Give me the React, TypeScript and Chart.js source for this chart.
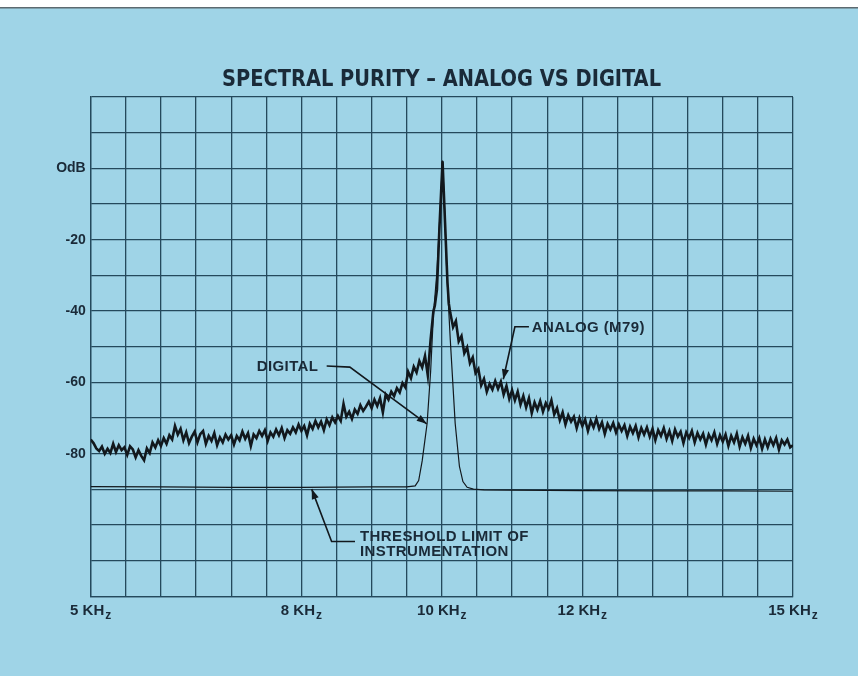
import React, { useEffect, useRef } from "react";
import { Chart, registerables } from "chart.js";

Chart.register(...registerables);

// ---------- data ----------
const TITLE = "SPECTRAL PURITY \u2013 ANALOG VS DIGITAL";

const X_MIN_KHZ = 5;
const X_MAX_KHZ = 15;
const X_GRID_STEP = 0.5;
const Y_MIN_DB = -120;
const Y_MAX_DB = 20;
const Y_GRID_STEP = 10;

const X_LABEL_KHZ = [5, 8, 10, 12, 15];
const X_LABEL_MAIN = ["5 KH", "8 KH", "10 KH", "12 KH", "15 KH"];
const X_LABEL_SUB = "z";

const Y_LABEL_DB = [0, -20, -40, -60, -80];
const Y_LABEL_TEXT = ["OdB", "-20", "-40", "-60", "-80"];

// Analog (M79) trace, left skirt sampled every 0.04 kHz from 5.00 kHz
const ANALOG_LEFT_START = 5.0;
const ANALOG_RIGHT_START = 10.12;
const ANALOG_STEP = 0.04;
const ANALOG_LEFT_DB = [
  -76.0, -77.0, -78.5, -79.2, -78.0, -80.0, -78.6, -79.8, -77.2, -79.5,
  -77.6, -79.0, -78.2, -80.3, -77.9, -78.8, -81.0, -79.0, -80.6, -81.8,
  -78.5, -79.8, -76.8, -78.2, -76.2, -77.8, -75.6, -77.2, -74.8, -76.0,
  -72.2, -74.6, -73.0, -76.2, -74.0, -77.0, -75.2, -73.8, -76.8, -74.5,
  -73.6, -77.2, -75.0, -76.4, -74.2, -77.6, -75.4, -76.8, -74.6, -76.0,
  -74.8, -77.4, -75.0, -76.2, -73.8, -75.8, -74.2, -77.8, -74.6, -75.6,
  -73.6, -75.0, -73.4, -76.4, -74.0, -75.2, -73.2, -74.8, -72.8, -75.6,
  -73.4, -74.4, -72.6, -74.0, -71.8, -73.6, -72.2, -74.8, -71.6, -73.0,
  -70.8, -72.6, -71.0, -73.4, -70.4, -72.0, -69.8, -71.2, -69.4, -70.8,
  -66.0, -69.6, -68.2, -70.2, -67.6, -68.8, -66.4, -68.0, -66.8, -65.4,
  -67.2, -64.8, -66.6, -64.4, -68.4, -63.4, -64.8, -62.6, -63.8, -61.6,
  -62.8, -60.2, -61.4, -57.0, -58.8, -55.6, -57.2, -54.0, -55.8, -52.6,
  -58.0, -48.0, -40.0,
];
// Analog carrier peak (explicit points)
const ANALOG_PEAK_KHZ = [9.9, 9.93, 9.965, 10.01, 10.045, 10.08, 10.1];
const ANALOG_PEAK_DB = [-38.5, -34.0, -17.0, 2.0, -15.0, -32.0, -38.0];
// Analog right skirt sampled every 0.04 kHz from 10.12 kHz
const ANALOG_RIGHT_DB = [
  -40.5, -44.5, -42.8, -48.5, -47.0, -51.8, -50.2, -54.6, -53.0, -57.4,
  -56.2, -60.8, -59.0, -62.6, -60.4, -62.0, -59.6, -61.8, -59.8, -63.4,
  -61.0, -64.6, -62.2, -65.0, -62.6, -66.2, -63.8, -67.0, -64.4, -68.6,
  -65.6, -67.6, -65.2, -68.2, -65.8, -67.4, -65.0, -69.0, -67.2, -70.6,
  -68.4, -71.8, -69.2, -71.0, -69.6, -72.8, -70.0, -72.2, -70.4, -73.6,
  -70.8, -72.6, -70.2, -73.0, -71.2, -74.4, -71.6, -73.2, -71.4, -74.0,
  -71.8, -73.6, -72.0, -75.0, -72.4, -74.2, -72.2, -75.4, -72.8, -74.6,
  -72.6, -75.2, -73.0, -76.2, -73.4, -75.0, -72.8, -75.8, -73.6, -76.4,
  -73.2, -75.2, -73.8, -77.0, -74.0, -75.6, -73.6, -76.8, -74.2, -76.0,
  -74.4, -77.4, -74.6, -76.2, -74.0, -77.2, -74.8, -76.6, -74.6, -77.8,
  -75.0, -76.8, -74.4, -78.0, -75.4, -77.2, -75.0, -78.4, -75.8, -77.6,
  -75.6, -78.6, -76.0, -78.2, -75.8, -77.6, -75.6, -78.8, -76.2, -77.4,
  -76.0, -78.2, -77.6,
];

// Digital trace
const DIGITAL_KHZ = [
  5.0, 6.0, 7.0, 8.0, 9.0, 9.5, 9.62, 9.67, 9.72, 9.79, 9.84, 9.88, 9.93,
  9.97, 10.01, 10.04, 10.07, 10.12, 10.19, 10.25, 10.3, 10.36, 10.45, 10.6,
  11.0, 12.0, 13.0, 14.0, 15.0,
];
const DIGITAL_DB = [
  -89.2, -89.3, -89.4, -89.4, -89.3, -89.3, -89.0, -87.5, -82.0, -71.5, -57.0,
  -41.0, -29.0, -14.0, 2.2, -12.0, -29.0, -48.0, -71.5, -83.5, -87.8, -89.4,
  -89.9, -90.1, -90.2, -90.3, -90.4, -90.4, -90.5,
];

// Annotations (text + leader with arrow, in kHz / dB)
const NOTE_DIGITAL_TEXT = "DIGITAL";
const NOTE_DIGITAL_AT = [7.364, -55.5];
const NOTE_DIGITAL_PATH = [[8.36, -55.4], [8.69, -55.7], [9.784, -71.6]];
const NOTE_ANALOG_TEXT = "ANALOG (M79)";
const NOTE_ANALOG_AT = [11.28, -44.6];
const NOTE_ANALOG_PATH = [[11.24, -44.4], [11.04, -44.4], [10.875, -59.1]];
const NOTE_THRESH_LINES = ["THRESHOLD LIMIT OF", "INSTRUMENTATION"];
const NOTE_THRESH_AT = [8.835, -103.3];
const NOTE_THRESH_PATH = [[8.763, -104.6], [8.43, -104.6], [8.147, -89.9]];

// ---------- styles ----------
const PANEL = "#9fd4e7";
const GRID = "#24495c";
const INK = "#12181d";
const TEXT = "#1a2a38";
const FONT = "'Liberation Sans', Arial, sans-serif";
const NARROW = "'Liberation Sans Narrow', 'DejaVu Sans Condensed', 'Arial Narrow', sans-serif";

function buildAnalog() {
  const pts: { x: number; y: number }[] = [];
  ANALOG_LEFT_DB.forEach((y, i) =>
    pts.push({ x: +(ANALOG_LEFT_START + i * ANALOG_STEP).toFixed(3), y })
  );
  ANALOG_PEAK_KHZ.forEach((x, i) => pts.push({ x, y: ANALOG_PEAK_DB[i] }));
  ANALOG_RIGHT_DB.forEach((y, i) =>
    pts.push({ x: +(ANALOG_RIGHT_START + i * ANALOG_STEP).toFixed(3), y })
  );
  return pts;
}

function drawArrowPath(ctx: CanvasRenderingContext2D, pts: number[][]) {
  ctx.beginPath();
  ctx.moveTo(pts[0][0], pts[0][1]);
  for (let i = 1; i < pts.length; i++) ctx.lineTo(pts[i][0], pts[i][1]);
  ctx.stroke();
  const [x1, y1] = pts[pts.length - 2];
  const [x2, y2] = pts[pts.length - 1];
  const a = Math.atan2(y2 - y1, x2 - x1);
  const L = 10, W = 3.6;
  ctx.beginPath();
  ctx.moveTo(x2, y2);
  ctx.lineTo(x2 - L * Math.cos(a) + W * Math.sin(a), y2 - L * Math.sin(a) - W * Math.cos(a));
  ctx.lineTo(x2 - L * Math.cos(a) - W * Math.sin(a), y2 - L * Math.sin(a) + W * Math.cos(a));
  ctx.closePath();
  ctx.fill();
}

const decorPlugin = {
  id: "decor",
  beforeDraw(chart: any) {
    const ctx = chart.ctx as CanvasRenderingContext2D;
    ctx.save();
    ctx.fillStyle = "#ffffff";
    ctx.fillRect(0, 0, chart.width, chart.height);
    ctx.fillStyle = PANEL;
    ctx.fillRect(0, 8, 858, chart.height - 8);
    ctx.fillStyle = "#5d6a70";
    ctx.fillRect(0, 7, 858, 1.5);
    ctx.restore();
  },
  afterDraw(chart: any) {
    const ctx = chart.ctx as CanvasRenderingContext2D;
    const xs = chart.scales.x;
    const ys = chart.scales.y;
    const px = (p: number[]) => [xs.getPixelForValue(p[0]), ys.getPixelForValue(p[1])];
    ctx.save();
    // title
    ctx.fillStyle = TEXT;
    ctx.font = `bold 23px ${NARROW}`;
    ctx.textBaseline = "middle";
    ctx.textAlign = "left";
    const tw = ctx.measureText(TITLE).width;
    const target = 439;
    ctx.save();
    ctx.translate(441.5 - target / 2, 80);
    ctx.scale(target / tw, 1);
    ctx.fillText(TITLE, 0, 0);
    ctx.restore();

    // x labels with subscript z
    X_LABEL_KHZ.forEach((v, i) => {
      const main = X_LABEL_MAIN[i];
      ctx.font = `bold 15px ${FONT}`;
      const mw = ctx.measureText(main).width;
      ctx.font = `bold 12px ${FONT}`;
      const sw = ctx.measureText(X_LABEL_SUB).width;
      const cx = xs.getPixelForValue(v);
      const x0 = cx - (mw + sw + 1) / 2;
      ctx.textAlign = "left";
      ctx.textBaseline = "alphabetic";
      ctx.font = `bold 15px ${FONT}`;
      ctx.fillText(main, x0, 615);
      ctx.font = `bold 12px ${FONT}`;
      ctx.fillText(X_LABEL_SUB, x0 + mw + 1, 619);
    });

    // annotations
    ctx.fillStyle = TEXT;
    ctx.strokeStyle = INK;
    ctx.lineWidth = 1.6;
    ctx.font = `bold 15px ${FONT}`;
    (ctx as any).letterSpacing = "0.4px";
    ctx.textBaseline = "middle";
    ctx.textAlign = "left";
    let p = px(NOTE_DIGITAL_AT);
    ctx.fillText(NOTE_DIGITAL_TEXT, p[0], p[1]);
    p = px(NOTE_ANALOG_AT);
    ctx.fillText(NOTE_ANALOG_TEXT, p[0], p[1]);
    p = px(NOTE_THRESH_AT);
    NOTE_THRESH_LINES.forEach((t, i) => ctx.fillText(t, p[0], p[1] + i * 14.5));
    ctx.fillStyle = INK;
    drawArrowPath(ctx, NOTE_DIGITAL_PATH.map(px));
    drawArrowPath(ctx, NOTE_ANALOG_PATH.map(px));
    drawArrowPath(ctx, NOTE_THRESH_PATH.map(px));
    ctx.restore();
  },
};

export default function App() {
  const ref = useRef<HTMLCanvasElement | null>(null);
  useEffect(() => {
    if (!ref.current) return;
    const digital = DIGITAL_KHZ.map((x, i) => ({ x, y: DIGITAL_DB[i] }));
    const chart = new Chart(ref.current, {
      type: "line",
      data: {
        datasets: [
          {
            label: "ANALOG (M79)",
            data: buildAnalog(),
            borderColor: INK,
            borderWidth: 2.6,
            borderJoinStyle: "miter",
            pointRadius: 0,
            tension: 0,
          },
          {
            label: "DIGITAL",
            data: digital,
            borderColor: INK,
            borderWidth: 1.2,
            pointRadius: 0,
            tension: 0,
          },
        ],
      },
      options: {
        animation: false,
        responsive: false,
        maintainAspectRatio: false,
        events: [],
        layout: { padding: { left: 0, right: 72, top: 97, bottom: 0 } },
        plugins: { legend: { display: false }, tooltip: { enabled: false }, title: { display: false } },
        scales: {
          x: {
            type: "linear",
            min: X_MIN_KHZ,
            max: X_MAX_KHZ,
            ticks: { stepSize: X_GRID_STEP, display: false },
            grid: { color: GRID, lineWidth: 1.3, drawTicks: false },
            border: { display: true, color: GRID, width: 1.3 },
            afterFit: (s: any) => {
              s.height = 79.5;
            },
          },
          y: {
            type: "linear",
            min: Y_MIN_DB,
            max: Y_MAX_DB,
            ticks: {
              stepSize: Y_GRID_STEP,
              padding: 5,
              color: TEXT,
              font: { family: FONT, weight: "bold", size: 14 },
              callback: (v: any) => {
                const i = Y_LABEL_DB.indexOf(Number(v));
                return i >= 0 ? Y_LABEL_TEXT[i] : "";
              },
            },
            grid: { color: GRID, lineWidth: 1.3, drawTicks: false },
            border: { display: true, color: GRID, width: 1.3 },
            afterFit: (s: any) => {
              s.width = 90.7;
            },
          },
        },
      },
      plugins: [decorPlugin],
    });
    return () => chart.destroy();
  }, []);
  return (
    <canvas
      ref={ref}
      width={865}
      height={676}
      style={{ position: "fixed", left: 0, top: 0, width: 865, height: 676 }}
    />
  );
}
